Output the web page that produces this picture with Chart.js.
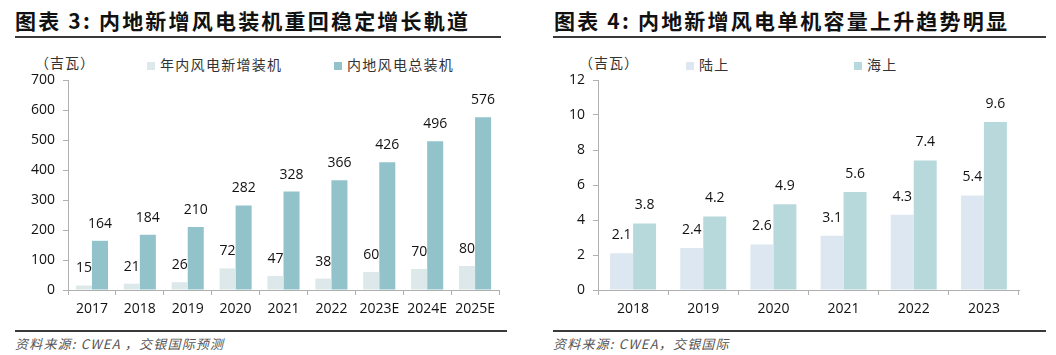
<!DOCTYPE html>
<html>
<head>
<meta charset="utf-8">
<script src="https://cdn.jsdelivr.net/npm/chart.js@4"></script>
<style>
  html,body{margin:0;padding:0;background:#fff;}
  body{width:1056px;height:355px;position:relative;overflow:hidden;font-family:"Noto Sans CJK SC","Noto Sans",sans-serif;}
  .title{position:absolute;top:5px;font-weight:bold;font-size:21px;letter-spacing:2.2px;color:#111;white-space:nowrap;line-height:30px;}
  .rule{position:absolute;height:2px;background:#3a3a3a;}
  .unit{position:absolute;top:52px;font-size:14px;color:#333;letter-spacing:1px;white-space:nowrap;line-height:20px;}
  .leg{position:absolute;top:54px;font-size:14px;color:#333;letter-spacing:1.3px;white-space:nowrap;line-height:20px;}
  .leg i{display:inline-block;width:8px;height:8px;margin-right:5px;vertical-align:0px;}
  .src{position:absolute;top:335px;font-size:13px;font-style:italic;color:#555;white-space:nowrap;line-height:18px;letter-spacing:1.2px;}
  .cv{position:absolute;top:60px;height:260px;}
</style>
</head>
<body>
<div class="title" style="left:15px;">图表 3: 内地新增风电装机重回稳定增长軌道</div>
<div class="rule" style="left:15px;width:486px;top:36px;"></div>
<div class="unit" style="left:35px;">（吉瓦）</div>
<div class="leg" style="left:147px;"><i style="background:#dde8ea"></i>年内风电新增装机</div>
<div class="leg" style="left:334px;"><i style="background:#93c3ca"></i>内地风电总装机</div>
<div class="rule" style="left:15px;width:492px;top:330px;"></div>
<div class="src" style="left:15px;">资料来源: CWEA ，交银国际预测</div>

<div class="title" style="left:554px;">图表 4: 内地新增风电单机容量上升趋势明显</div>
<div class="rule" style="left:553px;width:493px;top:36px;"></div>
<div class="unit" style="left:579px;">（吉瓦）</div>
<div class="leg" style="left:686px;"><i style="background:#dde7f1"></i>陆上</div>
<div class="leg" style="left:854px;"><i style="background:#b8d9dc"></i>海上</div>
<div class="rule" style="left:553px;width:493px;top:330px;"></div>
<div class="src" style="left:553px;">资料来源: CWEA，交银国际</div>

<div class="cv" style="left:0;width:530px;"><canvas id="c1"></canvas></div>
<div class="cv" style="left:530px;width:526px;"><canvas id="c2"></canvas></div>

<script>
// Chart 3 data
const years3 = ['2017','2018','2019','2020','2021','2022','2023E','2024E','2025E'];
const newInstall = [15,21,26,72,47,38,60,70,80];
const totalInstall = [164,184,210,282,328,366,426,496,576];
const yTicks3 = [0,100,200,300,400,500,600,700];

// Chart 4 data
const years4 = ['2018','2019','2020','2021','2022','2023'];
const onshore = [2.1,2.4,2.6,3.1,4.3,5.4];
const offshore = [3.8,4.2,4.9,5.6,7.4,9.6];
const yTicks4 = [0,2,4,6,8,10,12];

const numFont = '"Open Sans", "Noto Sans", sans-serif';

const labelPlugin = {
  id: 'barLabels',
  afterDatasetsDraw(chart, args, opts) {
    const ctx = chart.ctx;
    ctx.save();
    ctx.font = '14px ' + numFont;
    ctx.fillStyle = '#111';
    ctx.textAlign = 'center';
    ctx.textBaseline = 'middle';
    chart.data.datasets.forEach((ds, di) => {
      const meta = chart.getDatasetMeta(di);
      meta.data.forEach((bar, i) => {
        ctx.fillText(String(ds.data[i]), bar.x, bar.y - opts.offset);
      });
    });
    ctx.restore();
  }
};

function makeChart(id, labels, d1, d2, c1, c2, n1, n2, ticks, catPct, padRight, offset) {
  return new Chart(document.getElementById(id), {
    type: 'bar',
    data: {
      labels: labels,
      datasets: [
        {label: n1, data: d1, backgroundColor: c1, barPercentage: 1, categoryPercentage: catPct},
        {label: n2, data: d2, backgroundColor: c2, barPercentage: 1, categoryPercentage: catPct}
      ]
    },
    options: {
      responsive: true,
      maintainAspectRatio: false,
      animation: false,
      devicePixelRatio: 1,
      layout: {padding: {top: 20, right: padRight, left: 0, bottom: 0}},
      plugins: {
        legend: {display: false},
        tooltip: {enabled: false},
        barLabels: {offset: offset}
      },
      scales: {
        x: {
          grid: {display: true, drawOnChartArea: false, offset: true, tickLength: 5, color: '#b0b0b0'},
          border: {color: '#b0b0b0', width: 1},
          ticks: {color: '#111', font: {size: 14, family: numFont}, padding: 6, maxRotation: 0, autoSkip: false},
          afterFit: s => { s.height = 30; }
        },
        y: {
          min: ticks[0], max: ticks[ticks.length - 1],
          afterBuildTicks: s => { s.ticks = ticks.map(v => ({value: v})); },
          grid: {display: true, drawOnChartArea: false, tickLength: 5, color: '#b0b0b0'},
          border: {color: '#b0b0b0', width: 1},
          ticks: {color: '#111', font: {size: 14, family: numFont}, padding: 8},
          afterFit: s => { s.width = 68; }
        }
      }
    },
    plugins: [labelPlugin]
  });
}

makeChart('c1', years3, newInstall, totalInstall, '#dde8ea', '#93c3ca', '年内风电新增装机', '内地风电总装机', yTicks3, 0.67, 31, 17);
makeChart('c2', years4, onshore, offshore, '#dde7f1', '#b8d9dc', '陆上', '海上', yTicks4, 0.655, 37, 18);
</script>
</body>
</html>
